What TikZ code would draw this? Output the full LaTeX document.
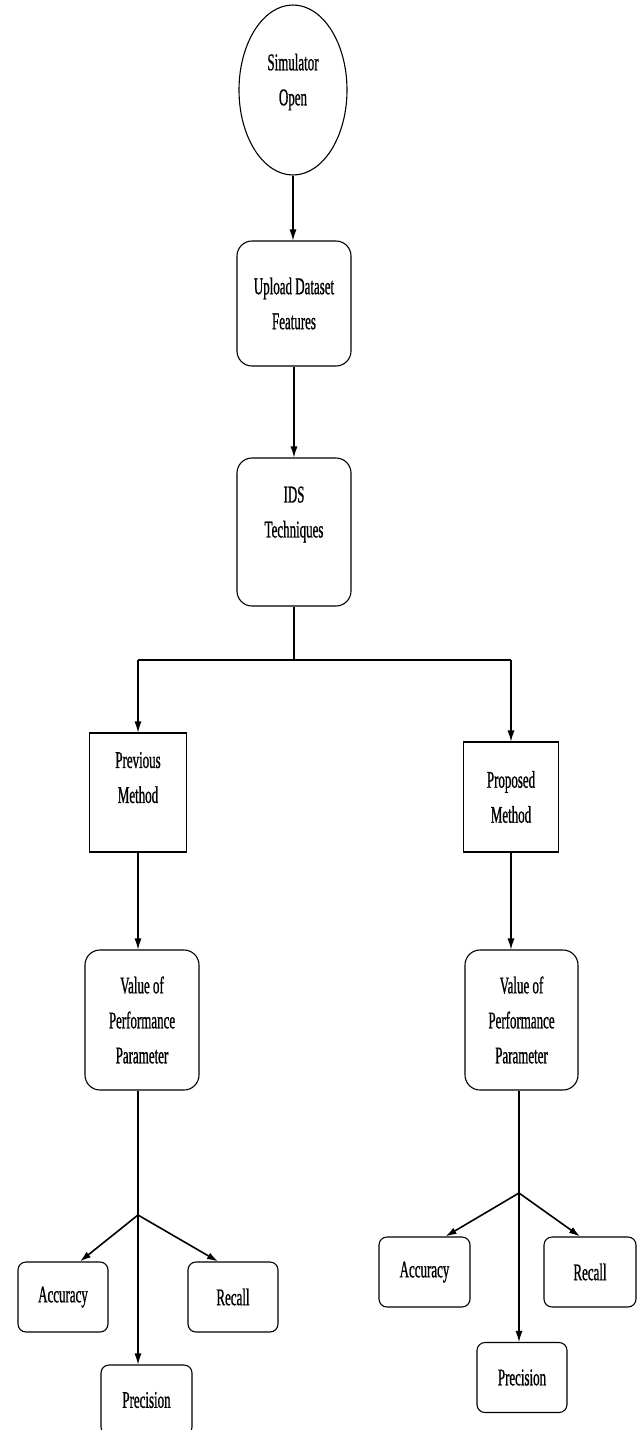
\documentclass[tikz,border=0pt]{standalone}
\usepackage{fontspec}
\setmainfont{Liberation Serif}[FakeStretch=0.54,FakeBold=0.8]
\usetikzlibrary{shapes.geometric,arrows.meta,calc}
\begin{document}
\begin{tikzpicture}[x=1pt,y=-1pt,
  every node/.style={font=\fontsize{24}{35}\selectfont, align=center, inner sep=0pt},
  rbox/.style={draw, line width=1.1pt, rounded corners=15pt},
  sbox/.style={draw, line width=1.1pt},
  mbox/.style={draw, line width=1.1pt, rounded corners=8pt, minimum width=90pt, minimum height=70pt},
  conn/.style={line width=1.1pt},
  arr/.style={line width=1.1pt, -{Latex[length=11pt,width=7pt]}},
  barr/.style={line width=1.6pt, -{Latex[length=11pt,width=7pt]}}]
\useasboundingbox (0,0) rectangle (637,1430);
% top
\node[ellipse, draw, line width=1.1pt, minimum width=108pt, minimum height=170pt] (sim) at (293,90) {};
\node (simt) at (293,82) {Simulator\\Open};
\node[rbox, minimum width=114pt, minimum height=125pt] (up) at (294,303.5) {Upload Dataset\\Features};
\node[rbox, minimum width=114pt, minimum height=148pt, text depth=40pt] (ids) at (294,532) {IDS\\Techniques};
% methods
\node[sbox, minimum width=97pt, minimum height=119pt, text depth=30pt] (prev) at (138,792.5) {Previous\\Method};
\node[sbox, minimum width=95pt, minimum height=110pt] (prop) at (511,797) {Proposed\\Method};
\coordinate (split) at (294,660);
\draw[arr] (sim.south) -- (sim.south |- up.north);
\draw[arr] (up.south) -- (ids.north);
\draw[conn] (ids.south) -- (split);
\draw[conn] (split -| prev.north) -- (split -| prop.north);
\draw[arr] (split -| prev.north) -- (prev.north);
\draw[arr] (split -| prop.north) -- (prop.north);
% values
\node[rbox, minimum width=114pt, minimum height=140pt] (vl) at (142,1020) {Value of\\Performance\\Parameter};
\node[rbox, minimum width=113pt, minimum height=140pt] (vr) at (521.5,1020) {Value of\\Performance\\Parameter};
\draw[arr] (prev.south) -- (prev.south |- vl.north);
\draw[arr] (prop.south) -- (prop.south |- vr.north);
% left metrics
\coordinate (bl) at (138,1215);
\node[mbox] (accl) at (63,1297) {Accuracy};
\node[mbox] (recl) at (233,1297) {Recall};
\node[mbox, minimum width=91pt] (precl) at (146.5,1400) {Precision};
\draw[conn] (vl.south -| bl) -- (bl);
\draw[barr] (bl) -- ([xshift=17pt]accl.north);
\draw[barr] (bl) -- ([xshift=-15pt]recl.north);
\draw[arr] (bl) -- (bl |- precl.north);
% right metrics
\coordinate (br) at (519,1193);
\node[mbox, minimum width=91pt] (accr) at (424.5,1272) {Accuracy};
\node[mbox, minimum width=92pt] (recr) at (590,1272) {Recall};
\node[mbox] (precr) at (522,1377.5) {Precision};
\draw[conn] (vr.south -| br) -- (br);
\draw[barr] (br) -- ([xshift=21pt]accr.north);
\draw[barr] (br) -- ([xshift=-10pt]recr.north);
\draw[arr] (br) -- (br |- precr.north);
\end{tikzpicture}
\end{document}
